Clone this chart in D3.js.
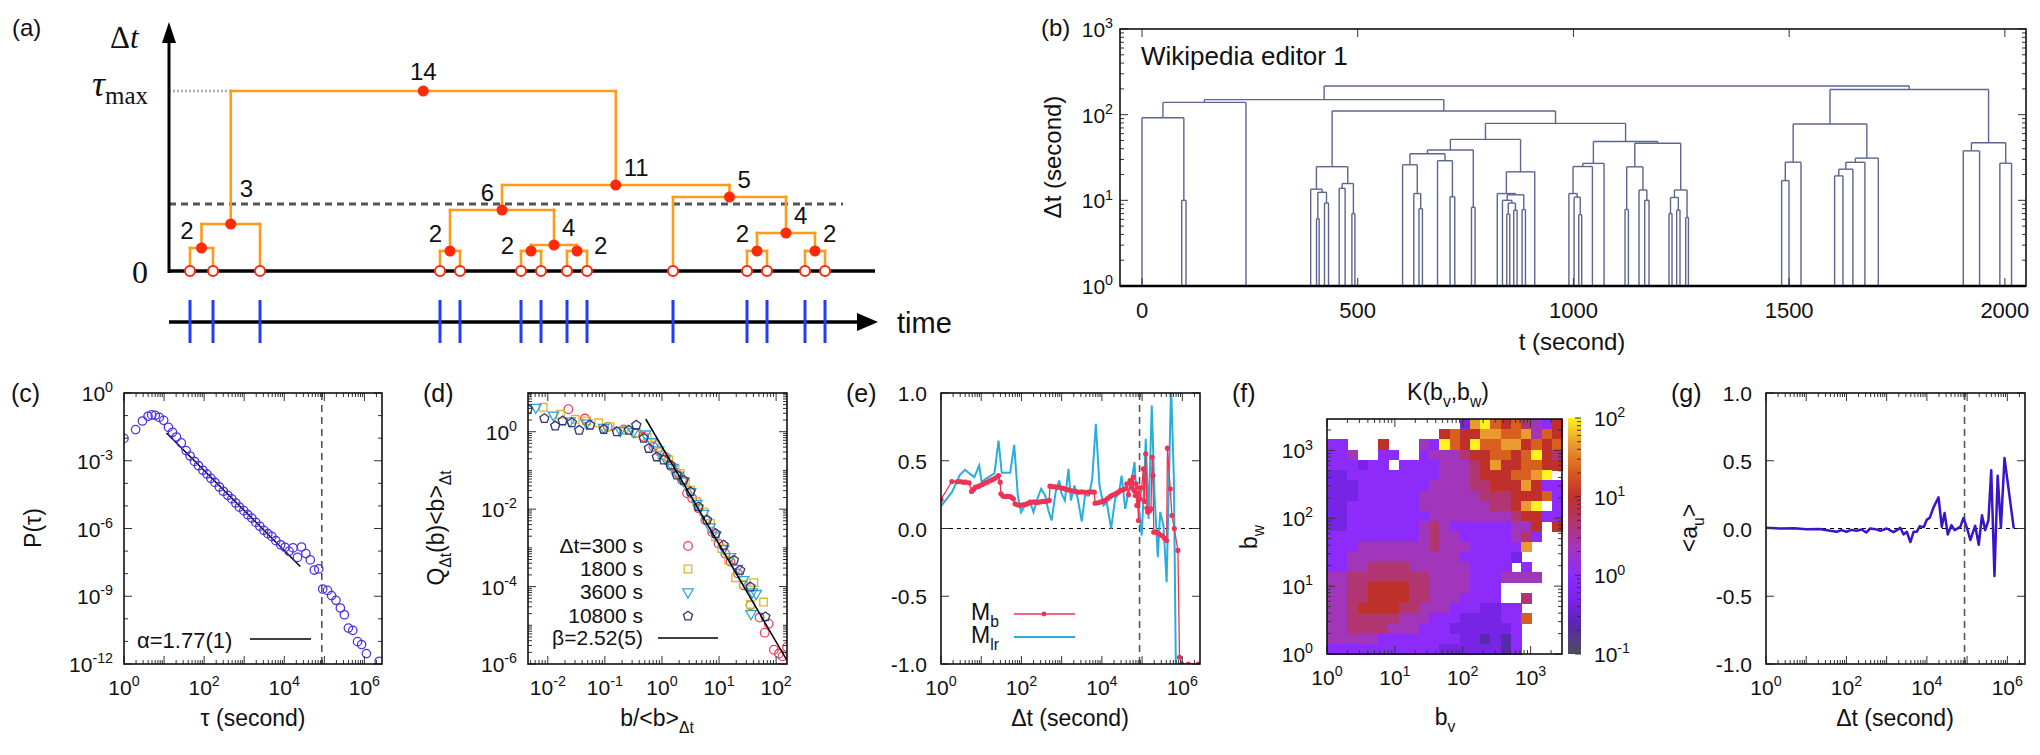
<!DOCTYPE html>
<html>
<head>
<meta charset="utf-8">
<script src="https://cdn.jsdelivr.net/npm/d3@7/dist/d3.min.js"></script>
<style>
  body { margin: 0; background: #fff; }
  svg text { font-family: "Liberation Sans", Arial, Helvetica, sans-serif; fill: #111; }
</style>
</head>
<body>
<svg id="fig" width="2040" height="755"></svg>
<script>
// ---------------- data ----------------

// (a) toy event sequence; every merge height is the gap between neighbouring events
var aEventTimes = [21, 44, 91, 271, 291, 352, 372, 398, 418, 504, 578, 598, 636, 656];
var aLabelSide = ['l', 'u', 't', 'l', 'l', 'L', 'r', 'R', 'r', 'r', 'l', 'r', 'r'];
var aThreshold = 67;

// (b) Wikipedia editor 1, event times (second)
var bEventTimes = [0, 92, 102, 241, 391, 404.5, 410.6, 423, 432.3, 457, 470.8, 486.5, 493.5,
  604, 630, 642, 650, 685, 714, 725, 763.7, 772, 823.5, 835.5, 845.5, 852.4, 861.7, 869.4, 881,
  888.8, 910.3, 989.5, 1001.5, 1012.4, 1019.2, 1044, 1071, 1119.6, 1127.4, 1152, 1165.2, 1175.2,
  1221.5, 1228.5, 1239.3, 1247, 1260.2, 1266.5, 1482.6, 1499.6, 1527.5, 1605.4, 1624.7, 1647.8,
  1675.6, 1706.7, 1903.6, 1941.4, 1988.4, 2015.5];
var bTicksX = [0, 500, 1000, 1500, 2000];
var bTicksY = [1, 10, 100, 1000];

// (c) [log10 tau, log10 P(tau)]
var cPoints = [[0.00,-2.01],[0.29,-1.62],[0.46,-1.24],[0.60,-1.03],[0.69,-0.97],[0.78,-0.99],[0.88,-1.08],
  [0.99,-1.21],[1.11,-1.52],[1.21,-1.74],[1.31,-1.95],[1.43,-2.21],[1.55,-2.55],[1.65,-2.79],[1.76,-3.03],
  [1.86,-3.22],[1.97,-3.42],[2.07,-3.59],[2.17,-3.78],[2.27,-3.96],[2.38,-4.16],[2.48,-4.35],[2.59,-4.53],
  [2.69,-4.69],[2.79,-4.87],[2.88,-5.05],[2.99,-5.21],[3.09,-5.39],[3.19,-5.54],[3.29,-5.73],[3.39,-5.90],
  [3.49,-6.08],[3.59,-6.23],[3.69,-6.35],[3.79,-6.54],[3.91,-6.72],[4.02,-6.83],[4.12,-7.01],[4.22,-6.86],
  [4.33,-7.28],[4.43,-6.82],[4.54,-7.11],[4.65,-7.39],[4.75,-7.84],[4.86,-7.79],[4.96,-8.68],[5.08,-8.74],
  [5.18,-8.97],[5.29,-9.18],[5.40,-9.52],[5.50,-9.82],[5.60,-10.41],[5.71,-10.51],[5.83,-11.01],[5.93,-11.14],
  [6.05,-11.54],[6.37,-11.88]];
var cAlpha = 1.77, cFitRange = [11.5, 25100], cFitP0 = 0.017;
var oneDay = 86400;

// (d) [log10 b/<b>, log10 Q<b>] per window
var dLabels = ['\u0394t=300 s', '1800 s', '3600 s', '10800 s'];
var d300 = [[-1.64,0.58],[-1.35,0.34],[-0.95,0.13],[-0.67,0.06],[-0.47,-0.04],[-0.32,-0.13],[-0.15,-0.39],
  [-0.04,-0.52],[0.06,-0.65],[0.16,-0.89],[0.25,-1.06],[0.35,-1.25],[0.44,-1.59],[0.53,-1.72],[0.64,-1.98],
  [0.76,-2.28],[0.88,-2.59],[0.99,-2.89],[1.11,-3.15],[1.20,-3.36],[1.33,-3.66],[1.43,-3.97],[1.55,-4.48],
  [1.71,-4.80],[1.80,-5.19],[1.87,-4.96],[1.96,-5.63],[2.05,-5.73],[2.11,-5.80],[2.19,-5.56]];
var d1800 = [[-2.08,0.63],[-1.78,0.45],[-1.52,0.32],[-1.32,0.28],[-1.11,0.23],[-0.91,0.13],[-0.67,0.04],
  [-0.44,-0.03],[-0.26,-0.15],[-0.12,-0.34],[0.00,-0.60],[0.12,-0.73],[0.23,-0.95],[0.32,-1.08],[0.41,-1.29],
  [0.50,-1.51],[0.61,-1.81],[0.73,-2.07],[0.85,-2.37],[0.94,-2.72],[1.05,-3.02],[1.17,-3.32],[1.29,-3.77],
  [1.43,-3.94],[1.61,-3.90],[1.55,-4.46],[1.78,-4.40]];
var d3600 = [[-2.21,0.63],[-1.90,0.43],[-1.61,0.28],[-1.32,0.22],[-1.02,0.11],[-0.73,0.03],[-0.50,0.00],
  [-0.29,-0.06],[-0.18,-0.26],[-0.06,-0.47],[0.06,-0.69],[0.19,-0.92],[0.29,-1.12],[0.38,-1.27],[0.50,-1.55],
  [0.61,-1.85],[0.73,-2.11],[0.84,-2.46],[0.94,-2.67],[1.08,-3.02],[1.20,-3.23],[1.32,-3.53],[1.43,-3.82],
  [1.58,-4.14],[1.65,-4.18],[1.56,-4.70]];
var d10800 = [[-2.35,0.58],[-2.06,0.34],[-1.87,0.15],[-1.74,0.28],[-1.58,0.23],[-1.45,0.04],[-1.26,0.17],
  [-1.02,0.06],[-0.79,0.00],[-0.58,0.04],[-0.45,0.17],[-0.32,-0.17],[-0.23,-0.43],[-0.09,-0.65],[0.03,-0.73],
  [0.15,-0.86],[0.26,-1.12],[0.38,-1.25],[0.50,-1.55],[0.64,-1.94],[0.79,-2.28],[0.94,-2.63],[1.08,-2.93],
  [1.26,-3.32],[1.37,-3.58],[1.55,-4.01],[1.81,-4.78]];
var dBeta = 2.52, dFitRange = [0.52, 155], dFitQ1 = 0.41;

// (e) [log10 dt, M]
var eMb = [[0,0.214],[0.27,0.347],[0.4,0.345],[0.47,0.347],[0.55,0.342],[0.61,0.342],[0.70,0.337],[0.76,0.273],
  [0.81,0.29],[0.86,0.305],[0.92,0.31],[0.97,0.317],[1.03,0.325],[1.09,0.335],[1.15,0.342],[1.22,0.354],
  [1.28,0.36],[1.34,0.371],[1.39,0.38],[1.43,0.391],[1.47,0.342],[1.49,0.256],[1.54,0.24],[1.59,0.236],
  [1.64,0.238],[1.69,0.236],[1.72,0.236],[1.76,0.228],[1.80,0.219],[1.84,0.182],[1.9,0.175],[1.97,0.170],
  [2.03,0.175],[2.09,0.177],[2.15,0.183],[2.2,0.19],[2.26,0.194],[2.32,0.196],[2.37,0.192],[2.42,0.194],
  [2.48,0.197],[2.54,0.2],[2.59,0.199],[2.64,0.203],[2.69,0.207],[2.71,0.312],[2.76,0.31],[2.82,0.308],
  [2.87,0.306],[2.92,0.305],[2.98,0.3],[3.04,0.297],[3.1,0.29],[3.17,0.285],[3.23,0.28],[3.3,0.276],
  [3.36,0.272],[3.42,0.268],[3.5,0.27],[3.58,0.267],[3.66,0.268],[3.73,0.27],[3.81,0.268],[3.83,0.187],
  [3.9,0.19],[3.96,0.195],[4.02,0.2],[4.08,0.207],[4.14,0.22],[4.2,0.235],[4.25,0.244],[4.3,0.25],
  [4.36,0.26],[4.41,0.268],[4.46,0.28],[4.52,0.285],[4.58,0.293],[4.62,0.33],[4.66,0.25],[4.70,0.354],
  [4.74,0.3],[4.78,0.379],[4.8,0.28],[4.83,0.244],[4.85,0.33],[4.87,0.170],[4.89,0.26],[4.91,0.059],
  [4.93,0.3],[4.95,0.219],[4.99,0.3],[5.03,0.440],[5.06,0.2],[5.09,0.551],[5.12,0.15],[5.14,0.121],
  [5.18,0.13],[5.22,0.145],[5.25,0.526],[5.27,0.391],[5.29,-0.027],[5.36,-0.027],[5.42,-0.04],[5.49,-0.052],
  [5.55,-0.07],[5.61,-0.089],[5.63,0.593],[5.70,0.293],[5.74,0.096],[5.80,0.0],[5.89,-0.162],[5.93,-0.95],
  [5.99,-1.0],[6.15,-1.0],[6.4,-1.0]];
var eMlr = [[0,0.165],[0.27,0.268],[0.47,0.396],[0.6,0.433],[0.72,0.403],[0.83,0.379],[0.95,0.465],[1.01,0.342],
  [1.11,0.367],[1.22,0.386],[1.33,0.408],[1.43,0.649],[1.51,0.411],[1.63,0.411],[1.72,0.411],[1.82,0.617],
  [1.91,0.244],[1.99,0.121],[2.11,0.182],[2.2,0.207],[2.3,0.121],[2.38,0.207],[2.49,0.293],[2.59,0.244],
  [2.67,0.133],[2.75,0.059],[2.85,0.268],[2.94,0.354],[3.0,0.256],[3.08,0.207],[3.17,0.44],[3.23,0.207],
  [3.32,0.317],[3.4,0.219],[3.5,0.052],[3.58,0.244],[3.68,0.244],[3.76,0.367],[3.85,0.772],[3.94,0.317],
  [4.04,0.17],[4.12,0.194],[4.23,0.0],[4.33,0.219],[4.43,0.268],[4.49,0.391],[4.58,0.145],[4.66,0.268],
  [4.74,0.354],[4.81,0.49],[4.87,0.194],[4.93,0.121],[4.99,-0.052],[5.06,0.391],[5.09,0.662],[5.16,0.071],
  [5.24,0.908],[5.31,0.244],[5.39,-0.212],[5.45,0.121],[5.53,0.022],[5.61,-0.396],[5.72,1.05],[5.79,0.367],
  [5.84,-1.05]];

// (f) K(bv,bw) on sqrt(2) bins, rows from largest bw down; digit d -> log10 K = -1 + d/3, '.' = empty
var fRows = [
  '.............2897675436',
  '...........676688778476',
  '33...6...43976977886767',
  '334..33..34445667767965',
  '333233.3333444568667766',
  '2233333333344456667789.',
  '22233333334444556668633',
  '22233333344444455566673',
  '223333333444444455689.3',
  '22333333334444444456633',
  '223333333454333333446.6',
  '333333333454433333453..',
  '33344444445444333338...',
  '3344444444444333332....',
  '334455554444443333.3...',
  '445555555544443334444..',
  '44556666554444333......',
  '44556666554443333..5...',
  '4456666554443332233....',
  '44555554443332222337...',
  '4455554443332222223....',
  '4444433333333221213....',
  '3333333333322222213....'
];
var fBins = 23, fMax = 2900;

// (g) [log10 dt, <a_u>]
var gAu = [[0,0.005],[0.35,0],[0.7,0.002],[1.0,-0.005],[1.33,-0.003],[1.6,-0.017],[1.76,-0.024],[1.88,-0.012],
  [2.0,-0.024],[2.12,-0.01],[2.25,-0.017],[2.38,-0.007],[2.49,-0.03],[2.59,0],[2.72,-0.005],[2.84,-0.017],
  [3.0,0],[3.17,-0.027],[3.34,0.005],[3.42,-0.044],[3.5,-0.024],[3.59,-0.10],[3.67,-0.024],[3.75,-0.024],
  [3.82,0.017],[3.92,0.01],[4.0,0.066],[4.07,0.078],[4.17,0.16],[4.29,0.23],[4.37,0.012],[4.44,0.115],
  [4.52,-0.044],[4.61,0.024],[4.69,-0.012],[4.83,0.012],[4.91,0.078],[5.0,0],[5.08,-0.085],[5.2,0.02],
  [5.29,-0.12],[5.37,0.098],[5.45,-0.012],[5.53,0.06],[5.6,0.43],[5.68,-0.35],[5.76,0.39],[5.84,0.005],
  [5.93,0.52],[6.16,0]];

// ---------------- helpers ----------------
var svg = d3.select('#fig');
var defs = svg.append('defs');

function seg(g, x1, y1, x2, y2) {
  return g.append('line').attr('x1', x1).attr('y1', y1).attr('x2', x2).attr('y2', y2);
}

// text made of parts [string, 0 normal | 1 sup | -1 sub]
function rich(g, x, y, parts, size, anchor) {
  var t = g.append('text').attr('x', x).attr('y', y)
    .attr('text-anchor', anchor || 'start').style('font-size', size + 'px');
  var cur = 0;
  parts.forEach(function(p) {
    var shift = p[1] === 1 ? -0.42 * size : (p[1] === -1 ? 0.3 * size : 0);
    var ts = t.append('tspan').attr('dy', shift - cur).text(p[0]);
    if (p[1]) ts.style('font-size', (0.68 * size) + 'px');
    cur = shift;
  });
  return t;
}

function pow10(g, x, y, e, anchor, size) {
  return rich(g, x, y, [['10', 0], [e, 1]], size || 20, anchor);
}

function rotated(g, x, y, parts, size) {
  var rg = g.append('g').attr('transform', 'translate(' + x + ',' + y + ') rotate(-90)');
  return rich(rg, 0, 0, parts, size, 'middle');
}

function minors(lo, hi) {
  var out = [];
  for (var k = Math.floor(Math.log10(lo)); k <= Math.ceil(Math.log10(hi)); k++) {
    for (var m = 2; m < 10; m++) {
      var v = m * Math.pow(10, k);
      if (v > lo && v < hi) out.push(v);
    }
  }
  return out;
}

function decades(lo, hi, step) {
  var out = [];
  for (var k = Math.ceil(Math.log10(lo)); k <= Math.floor(Math.log10(hi) + 1e-9); k++) {
    if (step && k % step !== 0) out.push(Math.pow(10, k));
    if (!step) out.push(Math.pow(10, k));
  }
  return out;
}

// gnuplot style border with inward ticks on all four sides
function frame(g, sx, sy, t) {
  var x0 = sx.range()[0], x1 = sx.range()[1], yb = sy.range()[0], ytop = sy.range()[1];
  var tg = g.append('g').attr('stroke', '#333').attr('stroke-width', 1);
  function tx(vals, len) {
    vals.forEach(function(v) { var x = sx(v); seg(tg, x, yb, x, yb - len); seg(tg, x, ytop, x, ytop + len); });
  }
  function ty(vals, len) {
    vals.forEach(function(v) { var y = sy(v); seg(tg, x0, y, x0 + len, y); seg(tg, x1, y, x1 - len, y); });
  }
  tx(t.xMaj || [], 8); tx(t.xMin || [], 4);
  ty(t.yMaj || [], 8); ty(t.yMin || [], 4);
  g.append('rect').attr('x', x0).attr('y', ytop).attr('width', x1 - x0).attr('height', yb - ytop)
    .attr('fill', 'none').attr('stroke', '#111').attr('stroke-width', 1.6);
}

function clipFor(id, sx, sy) {
  var x0 = sx.range()[0], x1 = sx.range()[1], yb = sy.range()[0], yt = sy.range()[1];
  defs.append('clipPath').attr('id', id).append('rect')
    .attr('x', x0).attr('y', yt).attr('width', x1 - x0).attr('height', yb - yt);
  return 'url(#' + id + ')';
}

function buildTree(times) {
  function rec(lo, hi) {
    if (lo === hi) return { x: times[lo], h: 0, n: 1 };
    var cut = lo, gap = -1;
    for (var i = lo; i < hi; i++) {
      if (times[i + 1] - times[i] > gap) { gap = times[i + 1] - times[i]; cut = i; }
    }
    var L = rec(lo, cut), R = rec(cut + 1, hi);
    return { x: (L.x + R.x) / 2, h: gap, n: L.n + R.n, left: L, right: R };
  }
  return rec(0, times.length - 1);
}

function internals(node, out) {
  if (node.left) { out.push(node); internals(node.left, out); internals(node.right, out); }
  return out;
}

function drawTree(g, root, sx, sy, leafY) {
  internals(root, []).forEach(function(nd) {
    var yy = sy(nd.h);
    [nd.left, nd.right].forEach(function(ch) {
      var cy = ch.left ? sy(ch.h) : leafY;
      seg(g, sx(ch.x), cy, sx(ch.x), yy);
    });
    seg(g, sx(nd.left.x), yy, sx(nd.right.x), yy);
  });
}

// ---------------- (a) schematic ----------------
(function() {
  var g = svg.append('g');
  var ax = d3.scaleLinear().domain([0, 706]).range([169, 875]);
  var ay = d3.scaleLinear().domain([0, 248]).range([271, 23]);
  var root = buildTree(aEventTimes);
  var nodes = internals(root, []).sort(function(p, q) { return p.x - q.x; });

  // threshold and tau_max guides
  seg(g, ax(0), ay(aThreshold), ax(674), ay(aThreshold))
    .attr('stroke', '#555').attr('stroke-width', 3.2).attr('stroke-dasharray', '7,5');
  seg(g, ax(0), ay(root.h), ax(root.left.x), ay(root.h))
    .attr('stroke', '#aaa').attr('stroke-width', 2.5).attr('stroke-dasharray', '2,2');

  var tg = g.append('g').attr('stroke', '#ff9a1a').attr('stroke-width', 2.6).attr('stroke-linecap', 'square');
  drawTree(tg, root, ax, ay, ay(0));

  // axes
  seg(g, ax(0), ay(0), 875, ay(0)).attr('stroke', '#000').attr('stroke-width', 3.6);
  seg(g, ax(0), ay(0) + 2, ax(0), 40).attr('stroke', '#000').attr('stroke-width', 3);
  g.append('path').attr('d', 'M169,22 L162,43 L176,43 Z').attr('fill', '#000');
  seg(g, ax(0), 322, 862, 322).attr('stroke', '#000').attr('stroke-width', 3.6);
  g.append('path').attr('d', 'M878,322 L857,313 L857,331 Z').attr('fill', '#000');

  // event ticks
  aEventTimes.forEach(function(t) {
    seg(g, ax(t), 300, ax(t), 343).attr('stroke', '#1f3cff').attr('stroke-width', 3);
  });

  // nodes
  nodes.forEach(function(nd) {
    g.append('circle').attr('cx', ax(nd.x)).attr('cy', ay(nd.h)).attr('r', 5.5).attr('fill', '#ff2a0a');
  });
  aEventTimes.forEach(function(t) {
    g.append('circle').attr('cx', ax(t)).attr('cy', ay(0)).attr('r', 5)
      .attr('fill', '#fff').attr('stroke', '#ff2a0a').attr('stroke-width', 2);
  });

  var off = { l: [-8, -18, 'end'], r: [8, -18, 'start'], L: [-17, -6, 'end'], R: [17, -6, 'start'],
              t: [0, -20, 'middle'], u: [9, -36, 'start'] };
  nodes.forEach(function(nd, i) {
    var o = off[aLabelSide[i]];
    g.append('text').attr('x', ax(nd.x) + o[0]).attr('y', ay(nd.h) + o[1] + 8.6)
      .attr('text-anchor', o[2]).style('font-size', '24px').text(nd.n);
  });

  // labels
  g.append('text').attr('x', 12).attr('y', 36).style('font-size', '24px').text('(a)');
  var dt = g.append('text').attr('x', 110).attr('y', 48)
    .style('font-family', '"Liberation Serif", serif').style('font-size', '31px');
  dt.append('tspan').text('\u0394');
  dt.append('tspan').style('font-style', 'italic').text('t');
  var tm = g.append('text').attr('x', 148).attr('y', 96).attr('text-anchor', 'end')
    .style('font-family', '"Liberation Serif", serif').style('font-size', '36px');
  tm.append('tspan').style('font-style', 'italic').text('\u03c4');
  tm.append('tspan').attr('dy', 8).style('font-size', '25px').text('max');
  g.append('text').attr('x', 148).attr('y', 283).attr('text-anchor', 'end')
    .style('font-family', '"Liberation Serif", serif').style('font-size', '32px').text('0');
  g.append('text').attr('x', 897).attr('y', 333).style('font-size', '29px').text('time');
})();

// ---------------- (b) Wikipedia editor dendrogram ----------------
(function() {
  var g = svg.append('g');
  var bx = d3.scaleLinear().domain([-51, 2049]).range([1120, 2026]);
  var by = d3.scaleLog().domain([1, 1000]).range([286, 29]);
  var root = buildTree(bEventTimes);
  var tg = g.append('g').attr('stroke', '#5b6590').attr('stroke-width', 1.4);
  drawTree(tg, root, bx, by, by(1));
  frame(g, bx, by, { xMaj: bTicksX, yMaj: bTicksY, yMin: minors(1, 1000) });
  seg(g, 1120, 286, 2026, 286).attr('stroke', '#000').attr('stroke-width', 2.4);

  bTicksX.forEach(function(v) {
    g.append('text').attr('x', bx(v)).attr('y', 318).attr('text-anchor', 'middle')
      .style('font-size', '22px').text(v);
  });
  bTicksY.forEach(function(v) {
    pow10(g, 1113, by(v) + 8, String(Math.round(Math.log10(v))), 'end', 21);
  });
  g.append('text').attr('x', 1141).attr('y', 65).style('font-size', '26px').text('Wikipedia editor 1');
  g.append('text').attr('x', 1572).attr('y', 350).attr('text-anchor', 'middle')
    .style('font-size', '24px').text('t (second)');
  rotated(g, 1061, 157, [['\u0394t (second)', 0]], 24);
  g.append('text').attr('x', 1041).attr('y', 36).style('font-size', '24px').text('(b)');
})();

// ---------------- (c) P(tau) ----------------
(function() {
  var g = svg.append('g');
  var cx = d3.scaleLog().domain([1, 2.75e6]).range([124, 382]);
  var cy = d3.scaleLog().domain([1e-12, 1]).range([664, 393]);
  var clip = clipFor('clipC', cx, cy);
  var pg = g.append('g').attr('clip-path', clip);

  seg(pg, cx(oneDay), 393, cx(oneDay), 664).attr('stroke', '#555').attr('stroke-width', 1.6)
    .attr('stroke-dasharray', '7,5');
  var fit = d3.line().x(function(d) { return cx(d); })
    .y(function(d) { return cy(cFitP0 * Math.pow(d / cFitRange[0], -cAlpha)); });
  pg.append('path').attr('d', fit(cFitRange)).attr('stroke', '#000').attr('stroke-width', 1.5).attr('fill', 'none');
  cPoints.forEach(function(p) {
    pg.append('circle').attr('cx', cx(Math.pow(10, p[0]))).attr('cy', cy(Math.pow(10, p[1]))).attr('r', 4.2)
      .attr('fill', 'none').attr('stroke', '#4b34e6').attr('stroke-width', 1.3);
  });

  frame(g, cx, cy, { xMaj: decades(1, 2.75e6), xMin: minors(1, 2.75e6),
                     yMaj: [1, 1e-3, 1e-6, 1e-9, 1e-12], yMin: decades(1e-12, 1, 3) });
  [0, 2, 4, 6].forEach(function(e) { pow10(g, cx(Math.pow(10, e)), 695, String(e), 'middle', 21); });
  [0, -3, -6, -9, -12].forEach(function(e) { pow10(g, 113, cy(Math.pow(10, e)) + 8, String(e), 'end', 21); });

  g.append('text').attr('x', 137).attr('y', 648).style('font-size', '22px').text('\u03b1=1.77(1)');
  seg(g, 250, 639, 311, 639).attr('stroke', '#000').attr('stroke-width', 1.5);
  g.append('text').attr('x', 253).attr('y', 726).attr('text-anchor', 'middle').style('font-size', '23px')
    .text('\u03c4 (second)');
  rotated(g, 41, 528, [['P(\u03c4)', 0]], 23);
  g.append('text').attr('x', 11).attr('y', 402).style('font-size', '25px').text('(c)');
})();

// ---------------- (d) scaled burst size distribution ----------------
(function() {
  var g = svg.append('g');
  var dx = d3.scaleLog().domain([0.0045, 155]).range([528, 787]);
  var dy = d3.scaleLog().domain([1e-6, 10]).range([664, 393]);
  var clip = clipFor('clipD', dx, dy);
  var pg = g.append('g').attr('clip-path', clip);
  var colors = ['#ea4262', '#e2b42e', '#2ca7d9', '#30376e'];
  var shapes = ['circle', 'square', 'triangle', 'pentagon'];

  function pent(r) {
    var pts = d3.range(5).map(function(k) {
      var a = -Math.PI / 2 + k * 2 * Math.PI / 5;
      return [r * Math.cos(a), r * Math.sin(a)];
    });
    return 'M' + pts.join('L') + 'Z';
  }
  function marker(gg, shape, x, y, color) {
    if (shape === 'circle') {
      return gg.append('circle').attr('cx', x).attr('cy', y).attr('r', 4.3)
        .attr('fill', 'none').attr('stroke', color).attr('stroke-width', 1.3);
    }
    var d = shape === 'square' ? d3.symbol().type(d3.symbolSquare).size(58)()
      : shape === 'triangle' ? d3.symbol().type(d3.symbolTriangle).size(48)() : pent(4.8);
    var rot = shape === 'triangle' ? ' rotate(180)' : '';
    return gg.append('path').attr('d', d).attr('transform', 'translate(' + x + ',' + y + ')' + rot)
      .attr('fill', 'none').attr('stroke', color).attr('stroke-width', 1.3);
  }

  [d300, d1800, d3600, d10800].forEach(function(series, i) {
    series.forEach(function(p) {
      marker(pg, shapes[i], dx(Math.pow(10, p[0])), dy(Math.pow(10, p[1])), colors[i]);
    });
  });
  var fit = d3.line().x(function(d) { return dx(d); })
    .y(function(d) { return dy(dFitQ1 * Math.pow(d, -dBeta)); });
  pg.append('path').attr('d', fit(dFitRange)).attr('stroke', '#000').attr('stroke-width', 1.5).attr('fill', 'none');

  frame(g, dx, dy, { xMaj: decades(0.0045, 155), xMin: minors(0.0045, 155),
                     yMaj: [1, 1e-2, 1e-4, 1e-6], yMin: [10, 0.1, 1e-3, 1e-5].concat(minors(1e-6, 10)) });
  [-2, -1, 0, 1, 2].forEach(function(e) { pow10(g, dx(Math.pow(10, e)), 695, String(e), 'middle', 21); });
  [0, -2, -4, -6].forEach(function(e) { pow10(g, 517, dy(Math.pow(10, e)) + 8, String(e), 'end', 21); });

  var rowsY = [546, 569, 592, 616, 638];
  dLabels.forEach(function(lab, i) {
    g.append('text').attr('x', 643).attr('y', rowsY[i] + 7).attr('text-anchor', 'end')
      .style('font-size', '21px').text(lab);
    marker(g, shapes[i], 688, rowsY[i], colors[i]);
  });
  g.append('text').attr('x', 643).attr('y', rowsY[4] + 7).attr('text-anchor', 'end')
    .style('font-size', '21px').text('\u03b2=2.52(5)');
  seg(g, 658, rowsY[4], 718, rowsY[4]).attr('stroke', '#000').attr('stroke-width', 1.5);

  rotated(g, 444, 528, [['Q', 0], ['\u0394t', -1], ['(b)<b>', 0], ['\u0394t', -1]], 23);
  rich(g, 657, 726, [['b/<b>', 0], ['\u0394t', -1]], 23, 'middle');
  g.append('text').attr('x', 423).attr('y', 402).style('font-size', '25px').text('(d)');
})();

// ---------------- (e) memory coefficients ----------------
(function() {
  var g = svg.append('g');
  var ex = d3.scaleLog().domain([1, 2.75e6]).range([941, 1200]);
  var ey = d3.scaleLinear().domain([-1, 1]).range([664, 393]);
  var clip = clipFor('clipE', ex, ey);
  var pg = g.append('g').attr('clip-path', clip);

  seg(pg, 941, ey(0), 1200, ey(0)).attr('stroke', '#000').attr('stroke-width', 1).attr('stroke-dasharray', '4,4');
  seg(pg, ex(oneDay), 393, ex(oneDay), 664).attr('stroke', '#555').attr('stroke-width', 1.6)
    .attr('stroke-dasharray', '7,5');
  var ln = d3.line().x(function(d) { return ex(Math.pow(10, d[0])); }).y(function(d) { return ey(d[1]); });
  pg.append('path').attr('d', ln(eMlr)).attr('fill', 'none').attr('stroke', '#27aedd').attr('stroke-width', 2);
  pg.append('path').attr('d', ln(eMb)).attr('fill', 'none').attr('stroke', '#ee3356').attr('stroke-width', 1.3);
  eMb.forEach(function(p) {
    pg.append('circle').attr('cx', ex(Math.pow(10, p[0]))).attr('cy', ey(p[1])).attr('r', 2.6).attr('fill', '#ee3356');
  });

  frame(g, ex, ey, { xMaj: decades(1, 2.75e6), xMin: minors(1, 2.75e6), yMaj: [-1, -0.5, 0, 0.5, 1] });
  [0, 2, 4, 6].forEach(function(e) { pow10(g, ex(Math.pow(10, e)), 695, String(e), 'middle', 21); });
  [1, 0.5, 0, -0.5, -1].forEach(function(v) {
    g.append('text').attr('x', 927).attr('y', ey(v) + 8).attr('text-anchor', 'end')
      .style('font-size', '21px').text(d3.format('.1f')(v).replace('\u2212', '-'));
  });

  rich(g, 971, 620, [['M', 0], ['b', -1]], 23, 'start');
  seg(g, 1014, 614, 1075, 614).attr('stroke', '#ee3356').attr('stroke-width', 1.3);
  g.append('circle').attr('cx', 1044).attr('cy', 614).attr('r', 2.4).attr('fill', '#ee3356');
  rich(g, 971, 643, [['M', 0], ['lr', -1]], 23, 'start');
  seg(g, 1014, 637, 1075, 637).attr('stroke', '#27aedd').attr('stroke-width', 2);

  g.append('text').attr('x', 1070).attr('y', 726).attr('text-anchor', 'middle').style('font-size', '23px')
    .text('\u0394t (second)');
  g.append('text').attr('x', 846).attr('y', 402).style('font-size', '25px').text('(e)');
})();

// ---------------- (f) heat map ----------------
(function() {
  var g = svg.append('g');
  var fx = d3.scaleLog().domain([1, fMax]).range([1327, 1562]);
  var fy = d3.scaleLog().domain([1, fMax]).range([654, 419]);
  var color = d3.scaleLinear()
    .domain([-1, -0.6, -0.3, 0, 0.35, 0.7, 1, 1.35, 1.7, 2])
    .range(['#4d4d57', '#5b24b8', '#7a24ea', '#8d2cfa', '#a236b8', '#b2356a', '#c0302a', '#d9621d', '#eca030', '#fff21f'])
    .clamp(true);
  var w = Math.log10(fMax) / fBins;
  var cg = g.append('g').attr('shape-rendering', 'crispEdges');
  fRows.forEach(function(row, r) {
    var k = fBins - 1 - r;
    for (var c = 0; c < fBins; c++) {
      var ch = row.charAt(c);
      if (!ch || ch === '.' || ch === ' ') continue;
      var lv = -1 + (+ch) / 3;
      var x0 = fx(Math.pow(10, c * w)), x1 = fx(Math.pow(10, (c + 1) * w));
      var y0 = fy(Math.pow(10, (k + 1) * w)), y1 = fy(Math.pow(10, k * w));
      cg.append('rect').attr('x', x0).attr('y', y0).attr('width', x1 - x0 + 0.6).attr('height', y1 - y0 + 0.6)
        .attr('fill', color(lv));
    }
  });
  frame(g, fx, fy, { xMaj: decades(1, fMax), xMin: minors(1, fMax), yMaj: decades(1, fMax), yMin: minors(1, fMax) });
  [0, 1, 2, 3].forEach(function(e) {
    pow10(g, fx(Math.pow(10, e)), 685, String(e), 'middle', 21);
    pow10(g, 1313, fy(Math.pow(10, e)) + 8, String(e), 'end', 21);
  });

  // colour bar
  var cb = d3.scaleLog().domain([0.1, 100]).range([654, 418]);
  var grad = defs.append('linearGradient').attr('id', 'cbar').attr('x1', 0).attr('y1', 1).attr('x2', 0).attr('y2', 0);
  d3.range(0, 31).forEach(function(i) {
    grad.append('stop').attr('offset', (i / 30)).attr('stop-color', color(-1 + i / 10));
  });
  g.append('rect').attr('x', 1568).attr('y', 418).attr('width', 13).attr('height', 236).attr('fill', 'url(#cbar)');
  var tg = g.append('g').attr('stroke', '#333').attr('stroke-width', 1);
  decades(0.1, 100).forEach(function(v) { seg(tg, 1575, cb(v), 1581, cb(v)); });
  minors(0.1, 100).forEach(function(v) { seg(tg, 1577, cb(v), 1581, cb(v)); });
  [2, 1, 0, -1].forEach(function(e) { pow10(g, 1594, cb(Math.pow(10, e)) + 8, String(e), 'start', 21); });

  rich(g, 1448, 400, [['K(b', 0], ['v', -1], [',b', 0], ['w', -1], [')', 0]], 23, 'middle');
  rotated(g, 1257, 537, [['b', 0], ['w', -1]], 23);
  rich(g, 1445, 725, [['b', 0], ['v', -1]], 23, 'middle');
  g.append('text').attr('x', 1232).attr('y', 402).style('font-size', '25px').text('(f)');
})();

// ---------------- (g) <a_u> ----------------
(function() {
  var g = svg.append('g');
  var gx = d3.scaleLog().domain([1, 2.75e6]).range([1766, 2025]);
  var gy = d3.scaleLinear().domain([-1, 1]).range([664, 393]);
  var clip = clipFor('clipG', gx, gy);
  var pg = g.append('g').attr('clip-path', clip);
  seg(pg, 1766, gy(0), 2025, gy(0)).attr('stroke', '#000').attr('stroke-width', 1).attr('stroke-dasharray', '4,4');
  seg(pg, gx(oneDay), 393, gx(oneDay), 664).attr('stroke', '#555').attr('stroke-width', 1.6)
    .attr('stroke-dasharray', '7,5');
  var ln = d3.line().x(function(d) { return gx(Math.pow(10, d[0])); }).y(function(d) { return gy(d[1]); });
  pg.append('path').attr('d', ln(gAu)).attr('fill', 'none').attr('stroke', '#3a14cc').attr('stroke-width', 2.5)
    .attr('stroke-linejoin', 'round');

  frame(g, gx, gy, { xMaj: decades(1, 2.75e6), xMin: minors(1, 2.75e6), yMaj: [-1, -0.5, 0, 0.5, 1] });
  [0, 2, 4, 6].forEach(function(e) { pow10(g, gx(Math.pow(10, e)), 695, String(e), 'middle', 21); });
  [1, 0.5, 0, -0.5, -1].forEach(function(v) {
    g.append('text').attr('x', 1752).attr('y', gy(v) + 8).attr('text-anchor', 'end')
      .style('font-size', '21px').text(d3.format('.1f')(v).replace('\u2212', '-'));
  });
  rotated(g, 1697, 528, [['<a', 0], ['u', -1], ['>', 0]], 23);
  g.append('text').attr('x', 1895).attr('y', 726).attr('text-anchor', 'middle').style('font-size', '23px')
    .text('\u0394t (second)');
  g.append('text').attr('x', 1671).attr('y', 402).style('font-size', '25px').text('(g)');
})();
</script>
</body>
</html>
